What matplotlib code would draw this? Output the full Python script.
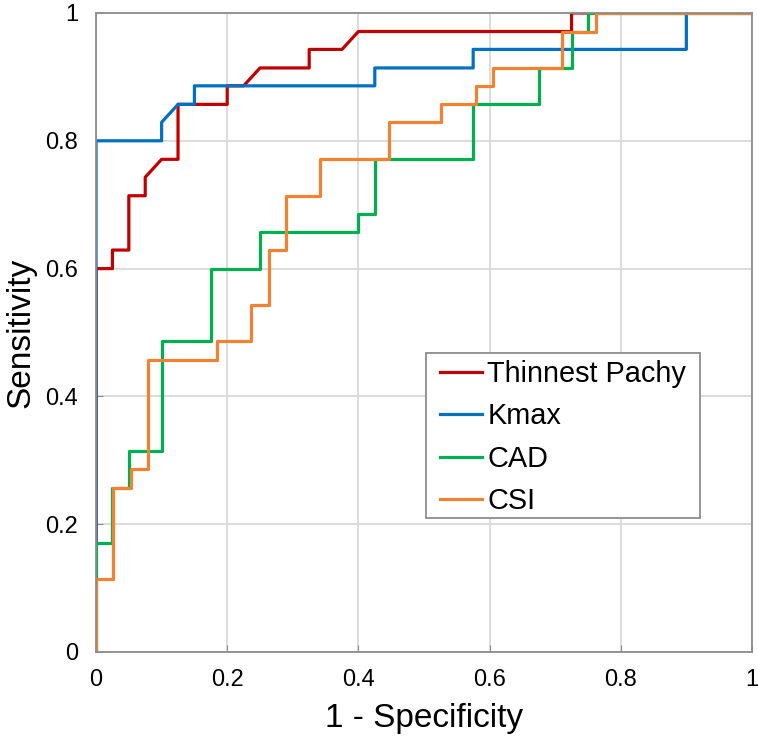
import matplotlib.pyplot as plt
from matplotlib.patches import Rectangle
from matplotlib.ticker import FormatStrFormatter

plt.rcParams['font.family'] = ['Liberation Sans', 'DejaVu Sans']

# ROC curve points (1 - specificity, sensitivity)
pachy_fpr = [0, 0, 0.025, 0.025, 0.05, 0.05, 0.075, 0.075, 0.1, 0.125, 0.125, 0.2, 0.2,
             0.225, 0.25, 0.325, 0.325, 0.375, 0.4, 0.725, 0.725, 1]
pachy_tpr = [0, 0.6, 0.6, 0.629, 0.629, 0.714, 0.714, 0.743, 0.771, 0.771, 0.857, 0.857, 0.886,
             0.886, 0.914, 0.914, 0.943, 0.943, 0.971, 0.971, 1, 1]

kmax_fpr = [0, 0, 0.1, 0.1, 0.125, 0.15, 0.15, 0.425, 0.425, 0.575, 0.575, 0.9, 0.9, 1]
kmax_tpr = [0, 0.8, 0.8, 0.829, 0.857, 0.857, 0.886, 0.886, 0.914, 0.914, 0.943, 0.943, 1, 1]

cad_fpr = [0, 0, 0.025, 0.025, 0.05, 0.05, 0.1, 0.1, 0.175, 0.175, 0.25, 0.25, 0.4, 0.4,
           0.425, 0.425, 0.575, 0.575, 0.675, 0.675, 0.725, 0.725, 0.75, 0.75, 1]
cad_tpr = [0, 0.171, 0.171, 0.257, 0.257, 0.314, 0.314, 0.486, 0.486, 0.6, 0.6, 0.657, 0.657, 0.686,
           0.686, 0.771, 0.771, 0.857, 0.857, 0.914, 0.914, 0.971, 0.971, 1, 1]

csi_fpr = [0, 0, 0.026, 0.026, 0.053, 0.053, 0.079, 0.079, 0.184, 0.184, 0.237, 0.237, 0.263, 0.263,
           0.289, 0.289, 0.342, 0.342, 0.447, 0.447, 0.526, 0.526, 0.579, 0.579, 0.605, 0.605,
           0.711, 0.711, 0.763, 0.763, 1]
csi_tpr = [0, 0.114, 0.114, 0.257, 0.257, 0.286, 0.286, 0.457, 0.457, 0.486, 0.486, 0.543, 0.543, 0.629,
           0.629, 0.714, 0.714, 0.771, 0.771, 0.829, 0.829, 0.857, 0.857, 0.886, 0.886, 0.914,
           0.914, 0.971, 0.971, 1, 1]

fig = plt.figure(figsize=(7.58, 7.42), dpi=100)
ax = fig.add_axes([0.1267, 0.1213, 0.8653, 0.8612])

lw = 2.3
ax.plot(pachy_fpr, pachy_tpr, color='#C00000', lw=lw, label='Thinnest Pachy')
ax.plot(kmax_fpr, kmax_tpr, color='#0070C0', lw=lw, label='Kmax')
ax.plot(cad_fpr, cad_tpr, color='#00B050', lw=lw, label='CAD')
ax.plot(csi_fpr, csi_tpr, color='#F08232', lw=lw, label='CSI')

ax.set_xlim(0, 1)
ax.set_ylim(0, 1)
ax.set_xticks([0, 0.2, 0.4, 0.6, 0.8, 1])
ax.set_yticks([0, 0.2, 0.4, 0.6, 0.8, 1])
ax.xaxis.set_major_formatter(FormatStrFormatter('%g'))
ax.yaxis.set_major_formatter(FormatStrFormatter('%g'))
ax.grid(True, color='#D9D9D9', lw=1.3)
ax.set_axisbelow(True)
for s in ax.spines.values():
    s.set_color('#8C8C8C')
    s.set_linewidth(1.3)
ax.tick_params(direction='in', length=5, color='#8C8C8C', labelsize=17)
ax.tick_params(axis='x', pad=12)
ax.tick_params(axis='y', pad=13)

ax.set_xlabel('1 - Specificity', fontsize=24, labelpad=9)
ax.set_ylabel('Sensitivity', fontsize=24, labelpad=6)

# legend box drawn by hand: Excel style has wider side padding than top/bottom
box = Rectangle((0.503, 0.210), 0.418, 0.258, transform=ax.transAxes,
                facecolor='white', edgecolor='#8C8C8C', lw=1.3, zorder=4)
ax.add_patch(box)
leg = ax.legend(loc='upper left', bbox_to_anchor=(0.524, 0.457), borderaxespad=0,
                fontsize=20.8, frameon=False, handlelength=1.45,
                handletextpad=0.2, labelspacing=0.5, borderpad=0)
leg.set_zorder(5)

fig.savefig('out.png', dpi=100)
